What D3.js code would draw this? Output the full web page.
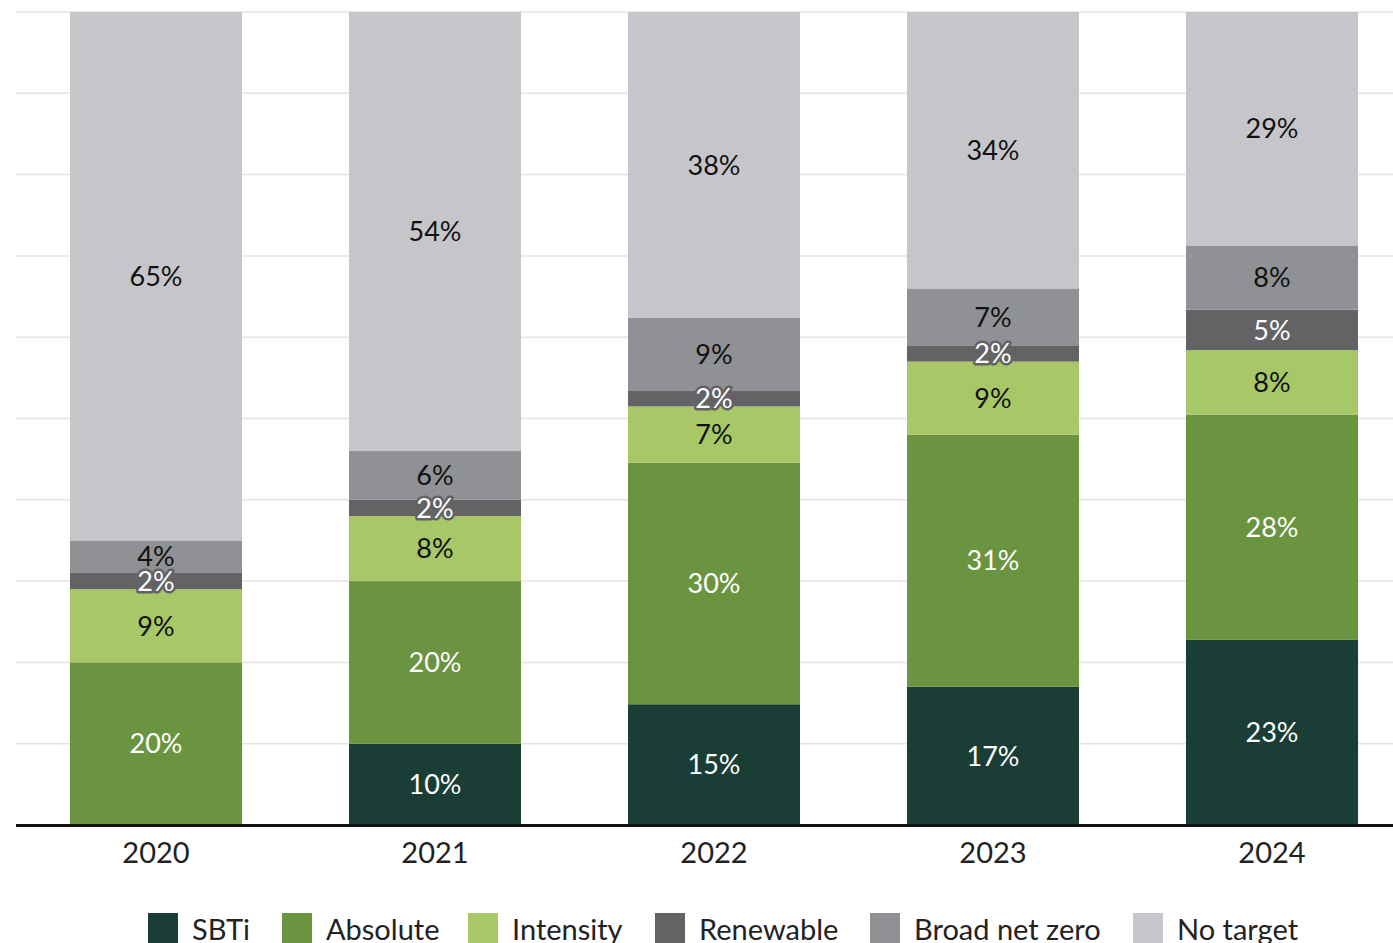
<!DOCTYPE html>
<html><head><meta charset="utf-8">
<script src="https://cdn.jsdelivr.net/npm/d3@7"></script>
<style>html,body{margin:0;padding:0;background:#fff;overflow:hidden}svg{display:block;font-family:Lato,"Open Sans",sans-serif}</style>
</head><body>
<svg id="c" width="1393" height="943"></svg>
<script>
const years = ["2020","2021","2022","2023","2024"];
const seriesNames = ["SBTi","Absolute","Intensity","Renewable","Broad net zero","No target"];
const sbti      = [0, 10, 15, 17, 23];
const absolute  = [20, 20, 30, 31, 28];
const intensity = [9, 8, 7, 9, 8];
const renewable = [2, 2, 2, 2, 5];
const broadNetZero = [4, 6, 9, 7, 8];
const noTarget  = [65, 54, 38, 34, 29];
const colors = ["#1a3d35","#6a9440","#a8c766","#636366","#8f9194","#c6c6ca"];
const labelColors = ["#fff","#fff","#111","#fff","#111","#111"];
const yTicks = [0,0.1,0.2,0.3,0.4,0.5,0.6,0.7,0.8,0.9,1];

const seriesArr = [sbti, absolute, intensity, renewable, broadNetZero, noTarget];
const rows = years.map((y,i)=>{const r={year:y}; seriesNames.forEach((s,k)=>r[s]=seriesArr[k][i]); return r;});
const stack = d3.stack().keys(seriesNames).offset(d3.stackOffsetExpand)(rows);

const svg = d3.select("#c");
const W = 1393;
const x = d3.scaleBand().domain(years).range([16, 1412]).paddingInner(0.3835).paddingOuter(0.1935);
const y = d3.scaleLinear().domain([0,1]).range([825, 12]);

svg.append("g").selectAll("line").data(yTicks.slice(1)).join("line")
  .attr("x1",16).attr("x2",W).attr("y1",d=>y(d)).attr("y2",d=>y(d))
  .attr("stroke","#e4e4e4").attr("stroke-width",1.5);

const g = svg.append("g");
stack.forEach((layer,k)=>{
  g.append("g").selectAll("rect").data(layer).join("rect")
    .attr("x",d=>x(d.data.year)).attr("width",x.bandwidth())
    .attr("y",d=>y(d[1])).attr("height",d=>y(d[0])-y(d[1]))
    .attr("fill",colors[k]);
});
stack.forEach((layer,k)=>{
  g.append("g").selectAll("text").data(layer.filter(d=>d.data[seriesNames[k]]>0)).join("text")
    .attr("x",d=>x(d.data.year)+x.bandwidth()/2)
    .attr("y",d=>(y(d[0])+y(d[1]))/2)
    .attr("dy","0.36em").attr("text-anchor","middle")
    .attr("font-size",27)
    .attr("fill",labelColors[k])
    .attr("stroke",k===3?colors[3]:"none").attr("stroke-width",k===3?5:0)
    .attr("stroke-linejoin","round").attr("paint-order","stroke")
    .text(d=>d.data[seriesNames[k]]+"%");
});

svg.append("line").attr("x1",16).attr("x2",W).attr("y1",825.5).attr("y2",825.5)
  .attr("stroke","#111").attr("stroke-width",3);

const xAxis = svg.append("g").attr("transform","translate(0,826)")
  .call(d3.axisBottom(x).tickSize(0).tickPadding(16));
xAxis.select(".domain").remove();
xAxis.selectAll("text").attr("font-size",29).attr("fill","#222").attr("font-family","Lato, sans-serif");

const legendX = [148, 282, 468, 655, 870, 1133];
const lg = svg.append("g");
seriesNames.forEach((s,k)=>{
  lg.append("rect").attr("x",legendX[k]).attr("y",913).attr("width",30).attr("height",30).attr("fill",colors[k]);
  lg.append("text").attr("x",legendX[k]+44).attr("y",940).attr("font-size",29).attr("fill","#222").text(s);
});
</script>
</body></html>
